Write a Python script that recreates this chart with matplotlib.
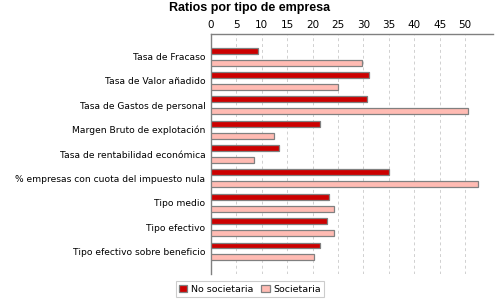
import numpy as np
import matplotlib
matplotlib.use("Agg")
import matplotlib.pyplot as plt

categories = [
    "Tasa de Fracaso",
    "Tasa de Valor añadido",
    "Tasa de Gastos de personal",
    "Margen Bruto de explotación",
    "Tasa de rentabilidad económica",
    "% empresas con cuota del impuesto nula",
    "Tipo medio",
    "Tipo efectivo",
    "Tipo efectivo sobre beneficio",
]
no_societaria = [9.2, 31.0, 30.8, 21.4, 13.3, 35.0, 23.2, 22.8, 21.4]
societaria = [29.7, 25.0, 50.6, 12.4, 8.4, 52.6, 24.3, 24.3, 20.2]
x_ticks = [0, 5, 10, 15, 20, 25, 30, 35, 40, 45, 50]

fig = plt.figure(figsize=(5, 3), dpi=100)
ax = fig.add_axes([0.422, 0.087, 0.564, 0.799])

y = np.arange(len(categories))
h = 0.246
ax.barh(y - h, no_societaria, height=h, color="#cc0000",
        edgecolor="#808080", linewidth=0.9, label="No societaria", zorder=3)
ax.barh(y + h, societaria, height=h, color="#ffbbb3",
        edgecolor="#808080", linewidth=0.9, label="Societaria", zorder=3)

ax.set_xlim(0, 55.5)
ax.set_ylim(len(categories) - 1 + 0.92, -0.92)
ax.xaxis.tick_top()
ax.set_xticks(x_ticks)
ax.tick_params(axis="x", length=0, pad=3, labelsize=7.5, colors="#000000")
ax.set_yticks(y)
ax.set_yticklabels(categories, fontsize=6.6)
ax.tick_params(axis="y", length=0, pad=4)

ax.grid(axis="x", color="#d0d0d0", linestyle=(0, (3, 3)), linewidth=0.7, zorder=0)
for s in ["right", "bottom"]:
    ax.spines[s].set_visible(False)
for s in ["left", "top"]:
    ax.spines[s].set_color("#808080")
    ax.spines[s].set_linewidth(1.0)

fig.text(0.5, 0.972, "Ratios por tipo de empresa", ha="center", va="center",
         fontsize=9, fontweight="bold", family="Liberation Sans")

leg = fig.legend(loc="center", bbox_to_anchor=(0.5, 0.036), ncol=2,
                 fontsize=6.8, frameon=True, fancybox=False, edgecolor="#c0c0c0",
                 handlelength=0.9, handleheight=0.9, handletextpad=0.4,
                 columnspacing=0.8, borderpad=0.35, borderaxespad=0)
leg.get_frame().set_linewidth(0.8)

fig.savefig("out.png", dpi=100)
